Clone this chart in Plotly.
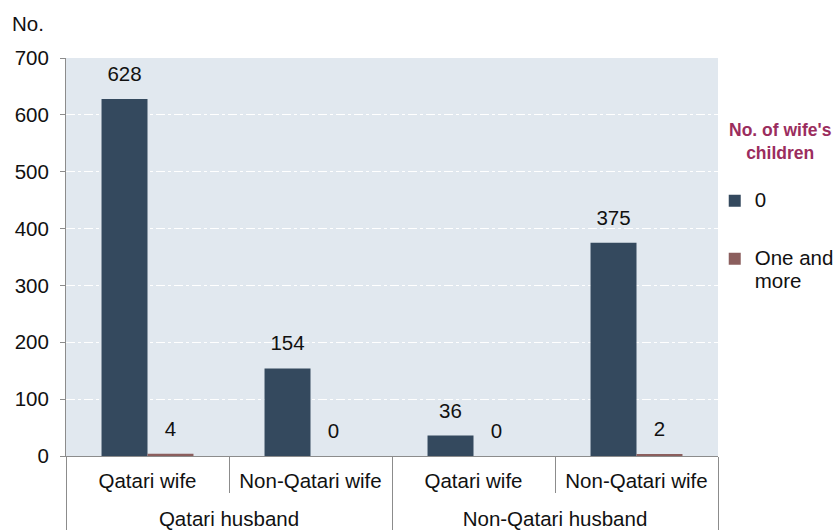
import plotly.graph_objects as go

husband = ["Qatari husband", "Qatari husband", "Non-Qatari husband", "Non-Qatari husband"]
wife = ["Qatari wife", "Non-Qatari wife", "Qatari wife", "Non-Qatari wife"]
zero_children = [628, 154, 36, 375]
one_or_more = [4, 0, 0, 2]
series_names = ["0", "One and<br>more"]
legend_title = "No. of wife's<br>children"
y_ticks = [0, 100, 200, 300, 400, 500, 600, 700]

C0 = "#34495e"
C1 = "#8b5e5d"
FONT = "Liberation Sans, Arial, sans-serif"
FS = 20.5


def big(s):
    return f"<span style='font-size:{FS}px'>{s}</span>"


x_lvl1 = ["<br><br>" + big(h) for h in husband]
x_lvl2 = [big(w) for w in wife]

fig = go.Figure()
for vals, name, col, grp in [(zero_children, series_names[0], C0, "a"),
                             (one_or_more, series_names[1], C1, "b")]:
    fig.add_trace(go.Bar(
        x=[x_lvl1, x_lvl2], y=vals,
        name="<br>".join(big(p) for p in name.split("<br>")),
        marker_color=col, marker_line_width=0,
        text=[big(v) + "<br> " for v in vals],
        textposition="outside", constraintext="none",
        textfont=dict(size=10, color="#111", family=FONT),
        cliponaxis=False, legendgroup=grp,
    ))

fig.update_layout(
    width=835, height=530,
    margin=dict(l=66, r=117, t=58, b=74, autoexpand=False),
    paper_bgcolor="white", plot_bgcolor="#e1e8ef",
    barmode="group", bargap=0.436, bargroupgap=0,
    font=dict(family=FONT, size=FS, color="#111"),
    legend=dict(
        x=0.995, xanchor="left", y=0.6855, yanchor="top",
        bgcolor="rgba(0,0,0,0)", valign="top",
        traceorder="grouped", tracegroupgap=33,
        font=dict(size=17, family=FONT, color="#111"),
        itemwidth=30,
    ),
    annotations=[
        dict(text="No.", xref="paper", yref="paper", x=-0.086, y=1.0855,
             xanchor="left", yanchor="middle", showarrow=False,
             font=dict(size=FS, family=FONT, color="#111")),
        dict(text=f"<b>{legend_title}</b>", xref="paper", yref="paper",
             x=1.0951, y=0.790, xanchor="center", yanchor="middle",
             showarrow=False, align="center",
             font=dict(size=17.5, family=FONT, color="#9b2d5e")),
    ],
)
fig.update_yaxes(
    range=[0, 700], tickvals=y_ticks, showgrid=True, gridcolor="white",
    griddash="dashdot", gridwidth=1, showline=True, linecolor="#8c8c8c",
    ticks="outside", ticklen=5, tickcolor="#8c8c8c", zeroline=False,
    tickfont=dict(size=FS), ticklabelstandoff=7,
)
fig.update_xaxes(
    type="multicategory", showline=True, linecolor="#8c8c8c",
    ticks="outside", tickson="boundaries", ticklen=36, tickcolor="#8c8c8c",
    showdividers=True, dividercolor="#8c8c8c", dividerwidth=1,
    tickfont=dict(size=11.5), ticklabelstandoff=17,
)
fig.write_html("out.html", config={"displayModeBar": False},
               post_script="document.body.style.margin='0';")
